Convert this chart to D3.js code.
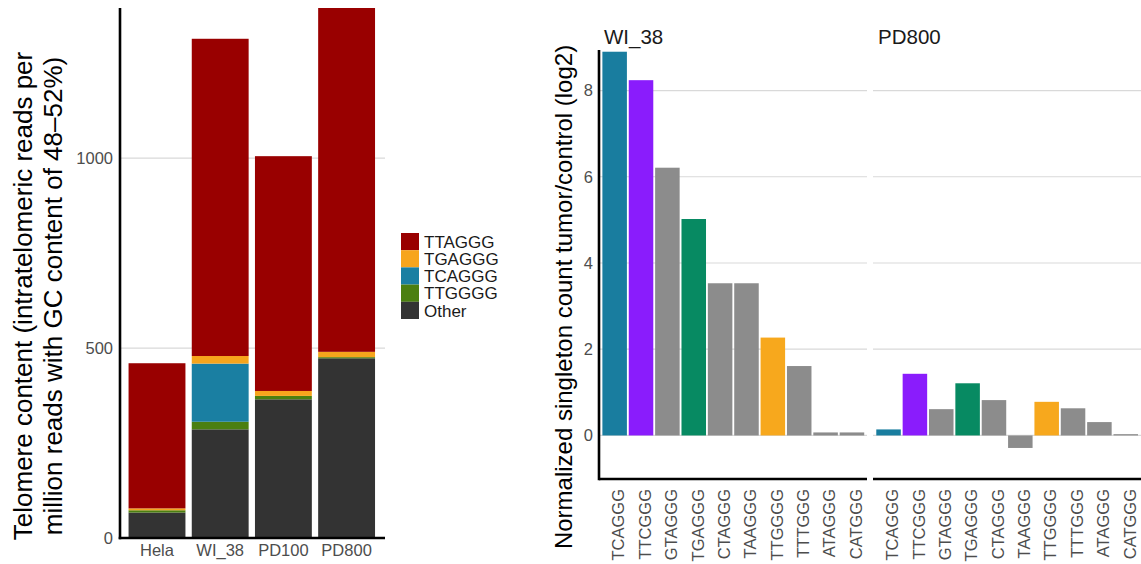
<!DOCTYPE html>
<html>
<head>
<meta charset="utf-8">
<script src="https://cdn.jsdelivr.net/npm/d3@7"></script>
<style>
  html, body { margin: 0; padding: 0; background: #fff; }
  svg { display: block; font-family: "Liberation Sans", Arial, sans-serif; }
  .tick-label { fill: #4d4d4d; font-size: 16.5px; }
  .xtick-r { font-size: 16.5px; }
  .grid line { stroke: #d9d9d9; stroke-width: 1.2; }
  .axis-line { stroke: #000; stroke-width: 2.6; }
  .title { fill: #000; font-size: 24px; }
  .title-l { font-size: 26px; }
  .strip { fill: #1a1a1a; font-size: 20.5px; }
  .legend-label { fill: #1a1a1a; font-size: 17px; }
</style>
</head>
<body>
<div id="chart"></div>
<script>
// Left: stacked telomere content per sample (bottom-to-top stack order)
const samples = ["Hela", "WI_38", "PD100", "PD800"];
const stackOrder = ["Other", "TTGGGG", "TCAGGG", "TGAGGG", "TTAGGG"];
const legendOrder = ["TTAGGG", "TGAGGG", "TCAGGG", "TTGGGG", "Other"];
const otherVals  = [67, 286, 365, 473];
const ttggggVals = [6, 20, 9, 3];
const tcagggVals = [0, 153, 0, 0];
const tgagggVals = [5, 20, 13, 14];
const ttagggVals = [382, 835, 618, 905];
const leftTicks = [0, 500, 1000];

// Right: log2 tumor/control singleton counts, faceted by sample
const panels = ["WI_38", "PD800"];
const variants = ["TCAGGG", "TTCGGG", "GTAGGG", "TGAGGG", "CTAGGG", "TAAGGG", "TTGGGG", "TTTGGG", "ATAGGG", "CATGGG"];
const wi38Ratio  = [8.90, 8.24, 6.21, 5.02, 3.53, 3.53, 2.27, 1.61, 0.07, 0.07];
const pd800Ratio = [0.14, 1.43, 0.61, 1.21, 0.82, -0.29, 0.78, 0.63, 0.31, 0.03];
const rightTicks = [0, 2, 4, 6, 8];

const stackColor = {
  TTAGGG: "#990000", TGAGGG: "#f7a51c", TCAGGG: "#1a7fa2", TTGGGG: "#4b7f10", Other: "#333333"
};
const variantColor = (v) => ({
  TCAGGG: "#197d9f", TTCGGG: "#8a1cfc", TGAGGG: "#078a62", TTGGGG: "#f7a81d"
}[v] || "#8c8c8c");

const W = 1141, H = 564;
const svg = d3.select("#chart").append("svg").attr("width", W).attr("height", H);

// ---------------- left panel ----------------
const seriesVals = { Other: otherVals, TTGGGG: ttggggVals, TCAGGG: tcagggVals, TGAGGG: tgagggVals, TTAGGG: ttagggVals };
const rows = samples.map((s, i) => {
  const r = { sample: s };
  for (const k of stackOrder) r[k] = seriesVals[k][i];
  return r;
});
const stacked = d3.stack().keys(stackOrder)(rows);
const maxTotal = d3.max(rows, (r) => d3.sum(stackOrder, (k) => r[k]));

const L = { x0: 120, x1: 385, top: 8, bottom: 538 };
const xL = d3.scaleBand(samples, [125.4, 378.2]).paddingInner(0.1).paddingOuter(0.05);
const yL = d3.scaleLinear([0, maxTotal], [L.bottom, L.top]);

const gl = svg.append("g");
gl.append("g").attr("class", "grid").selectAll("line")
  .data(leftTicks.filter((d) => d > 0)).join("line")
  .attr("x1", L.x0).attr("x2", L.x1).attr("y1", (d) => yL(d)).attr("y2", (d) => yL(d));

gl.selectAll("g.layer").data(stacked).join("g").attr("class", "layer")
  .attr("fill", (d) => stackColor[d.key])
  .selectAll("rect").data((d) => d).join("rect")
  .attr("x", (d) => xL(d.data.sample)).attr("width", xL.bandwidth())
  .attr("y", (d) => yL(d[1])).attr("height", (d) => Math.max(0, yL(d[0]) - yL(d[1])));

gl.selectAll("text.ytick").data(leftTicks).join("text").attr("class", "tick-label ytick")
  .attr("x", 113).attr("y", (d) => yL(d)).attr("dy", "0.35em").attr("text-anchor", "end").text((d) => d);
gl.selectAll("text.xtick").data(samples).join("text").attr("class", "tick-label xtick")
  .attr("x", (d) => xL(d) + xL.bandwidth() / 2).attr("y", 556)
  .attr("text-anchor", "middle").text((d) => d);

gl.append("line").attr("class", "axis-line").attr("x1", L.x0).attr("x2", L.x0).attr("y1", L.top).attr("y2", L.bottom + 1.3);
gl.append("line").attr("class", "axis-line").attr("x1", L.x0 - 1.3).attr("x2", L.x1).attr("y1", L.bottom).attr("y2", L.bottom);

gl.append("text").attr("class", "title title-l").attr("text-anchor", "middle")
  .attr("transform", `translate(32,296) rotate(-90)`).text("Telomere content (intratelomeric reads per");
gl.append("text").attr("class", "title title-l").attr("text-anchor", "middle")
  .attr("transform", `translate(62,296) rotate(-90)`).text("million reads with GC content of 48\u201352%)");

// legend
const lg = svg.append("g").attr("transform", "translate(401,233)");
const li = lg.selectAll("g").data(legendOrder).join("g").attr("transform", (d, i) => `translate(0,${i * 17.2})`);
li.append("rect").attr("width", 18).attr("height", 17.2).attr("fill", (d) => stackColor[d]);
li.append("text").attr("class", "legend-label").attr("x", 23).attr("y", 8.6).attr("dy", "0.36em").text((d) => d);

// ---------------- right panel ----------------
const R = { top: 50, bottom: 479 };
const panelX = [[599, 867], [873, 1141]];
const bandX = [[601.6, 865], [875.5, 1138.8]];
const panelData = [wi38Ratio, pd800Ratio];
const yR = d3.scaleLinear([-1.01, 8.94], [R.bottom, R.top]);

const gr = svg.append("g");
panels.forEach((p, pi) => {
  const [px0, px1] = panelX[pi];
  const x = d3.scaleBand(variants, bandX[pi]).paddingInner(0.07).paddingOuter(0.03);
  const g = gr.append("g");
  g.append("g").attr("class", "grid").selectAll("line").data(rightTicks).join("line")
    .attr("x1", px0).attr("x2", px1).attr("y1", (d) => yR(d)).attr("y2", (d) => yR(d));
  g.selectAll("rect").data(variants.map((v, i) => ({ v, val: panelData[pi][i] }))).join("rect")
    .attr("x", (d) => x(d.v)).attr("width", x.bandwidth())
    .attr("y", (d) => yR(Math.max(0, d.val)))
    .attr("height", (d) => Math.abs(yR(d.val) - yR(0)))
    .attr("fill", (d) => variantColor(d.v));
  g.append("line").attr("class", "axis-line").attr("x1", px0).attr("x2", px1).attr("y1", R.bottom).attr("y2", R.bottom);
  g.selectAll("text.xtick").data(variants).join("text").attr("class", "tick-label xtick-r")
    .attr("transform", (d) => `translate(${x(d) + x.bandwidth() / 2 + 4},489) rotate(-90)`)
    .attr("dy", "0.35em").attr("text-anchor", "end").text((d) => d);
  g.append("text").attr("class", "strip").attr("x", px0 + 5).attr("y", 44).text(p);
});

gr.append("line").attr("class", "axis-line").attr("x1", 599).attr("x2", 599).attr("y1", R.top).attr("y2", R.bottom + 1.3);
gr.selectAll("text.ytick").data(rightTicks).join("text").attr("class", "tick-label ytick")
  .attr("x", 593).attr("y", (d) => yR(d)).attr("dy", "0.35em").attr("text-anchor", "end").text((d) => d);
gr.append("text").attr("class", "title").attr("text-anchor", "middle")
  .attr("transform", `translate(572,297) rotate(-90)`).text("Normalized singleton count tumor/control (log2)");
</script>
</body>
</html>
